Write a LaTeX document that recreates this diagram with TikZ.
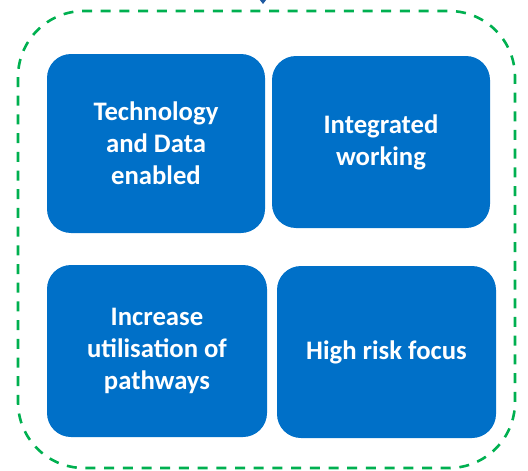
\documentclass[tikz,border=0pt]{standalone}
\usepackage{fontspec}
\setmainfont{Carlito}
\usetikzlibrary{arrows.meta}
\definecolor{tileblue}{RGB}{0,112,200}
\definecolor{framegreen}{RGB}{0,176,80}
\definecolor{feedblue}{RGB}{31,90,160}
\begin{document}
\begin{tikzpicture}[x=1pt,y=-1pt,
  tile/.style={fill=tileblue, rounded corners=24pt, text=white, inner sep=0pt,
    font=\bfseries\fontsize{26.7}{32}\selectfont, align=center},
  frame/.style={draw=framegreen, line width=2.6pt, dash pattern=on 10pt off 8.7pt,
    rounded corners=66pt},
  feed/.style={draw=feedblue, line width=1pt, -{Triangle[width=6pt,length=4pt]}}]
\useasboundingbox (0,0) rectangle (528,471);
\clip (0,0) rectangle (528,471);

% dashed grouping frame
\draw[frame] (18,11) rectangle (515,468);

% incoming connector from above
\coordinate (feedin) at (263,-20);
\coordinate (feedend) at (263,4);
\draw[feed] (feedin) -- (feedend);

% four tiles
\node[tile, minimum width=218pt, minimum height=179pt] (tech) at (156,143.5)
  {Technology\\and Data\\enabled};
\node[tile, minimum width=218pt, minimum height=172pt] (integ) at (381,142)
  {Integrated\\working};
\node[tile, minimum width=220pt, minimum height=172pt] (paths) at (157,351)
  {Increase\\utilisation of\\pathways};
\node[tile, minimum width=219pt, minimum height=172pt] (risk) at (386.5,352)
  {High risk focus};
\end{tikzpicture}
\end{document}
